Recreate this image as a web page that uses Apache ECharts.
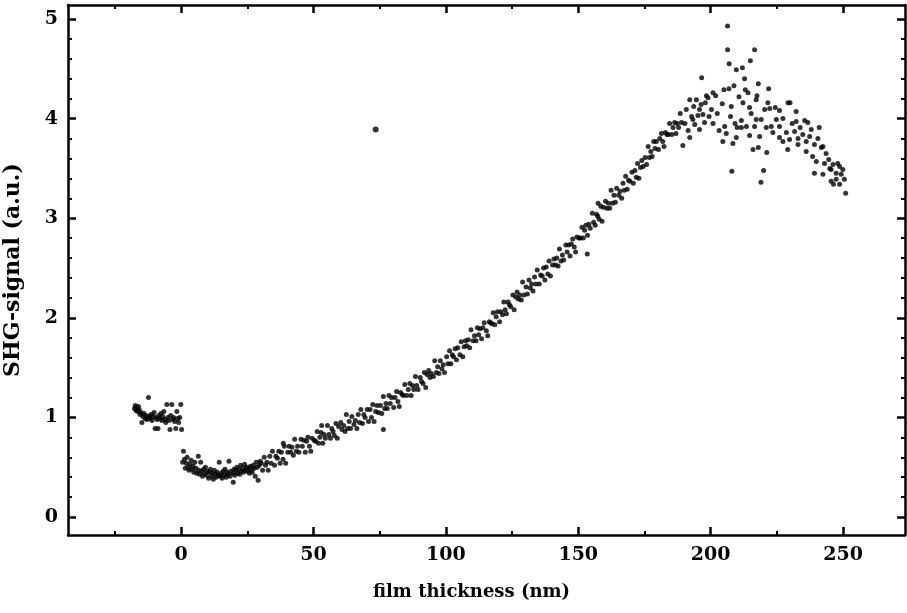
<!DOCTYPE html>
<html>
<head>
<meta charset="utf-8">
<script src="https://cdn.jsdelivr.net/npm/echarts@6/dist/echarts.min.js"></script>
<style>
html,body{margin:0;padding:0;background:#fff;}
#chart{width:907px;height:613px;}
</style>
</head>
<body>
<div id="chart"></div>
<script>
// ---- axis ranges and ticks ----
const X_MIN = -42.7, X_MAX = 273.4;
const Y_MIN = -0.18, Y_MAX = 5.14;
const xMajorTicks = [0, 50, 100, 150, 200, 250];
const xMinorTicks = [-25, 25, 75, 125, 175, 225];
const yMajorTicks = [0, 1, 2, 3, 4, 5];
const yMinorTicks = [0.2,0.4,0.6,0.8,1.2,1.4,1.6,1.8,2.2,2.4,2.6,2.8,3.2,3.4,3.6,3.8,4.2,4.4,4.6,4.8];
const xTitle = 'film thickness (nm)';
const yTitle = 'SHG-signal (a.u.)';

// ---- data: [film thickness (nm), SHG signal (a.u.)] ----
const bareSubstrate = [[-17.6,1.09],[-17.3,1.12],[-17.0,1.07],[-16.7,1.10],[-16.4,1.06],[-16.1,1.11],[-15.8,1.08],[-15.5,1.03],[-15.1,1.05],[-14.8,0.95],[-14.4,1.01],[-14.0,1.04],[-13.6,0.99],[-13.2,1.02],[-12.9,0.98],[-12.3,1.20],[-12.1,1.01],[-11.7,0.99],[-11.4,1.03],[-11.0,0.97],[-10.6,1.01],[-10.2,1.05],[-9.8,0.89],[-9.5,1.00],[-9.1,0.98],[-8.7,0.89],[-8.4,1.02],[-8.0,0.99],[-7.6,1.04],[-7.3,0.97],[-6.9,1.01],[-6.5,1.06],[-6.1,0.98],[-5.8,0.95],[-5.4,1.13],[-5.0,1.00],[-4.6,0.97],[-4.2,0.88],[-3.9,1.02],[-3.5,1.13],[-3.1,0.98],[-2.8,1.00],[-2.4,0.96],[-2.0,0.89],[-1.6,1.06],[-1.3,0.99],[-0.9,0.95],[-0.5,1.00],[-0.1,1.13],[0.2,0.88]];

const thinFilm = [[0.6,0.55],[0.9,0.66],[1.3,0.58],[1.6,0.49],[2.0,0.54],[2.3,0.60],[2.7,0.50],[3.0,0.47],[3.4,0.53],[3.8,0.57],[4.1,0.48],[4.5,0.51],[4.8,0.45],[5.2,0.55],[5.6,0.49],[5.9,0.44],[6.5,0.61],[6.7,0.47],[7.0,0.43],[7.4,0.55],[7.8,0.46],[8.1,0.41],[8.5,0.48],[8.9,0.44],[9.2,0.50],[9.6,0.42],[10.0,0.46],[10.4,0.39],[10.7,0.45],[11.1,0.48],[11.5,0.41],[11.8,0.44],[12.2,0.38],[12.6,0.47],[13.0,0.43],[13.3,0.40],[13.7,0.45],[14.1,0.42],[14.4,0.55],[14.8,0.41],[15.2,0.44],[15.5,0.39],[15.9,0.46],[16.3,0.42],[16.6,0.48],[17.0,0.40],[17.4,0.45],[17.7,0.43],[18.1,0.56],[18.5,0.41],[18.8,0.46],[19.7,0.35],[19.6,0.44],[20.0,0.48],[20.3,0.42],[20.7,0.47],[21.1,0.50],[21.4,0.44],[21.8,0.48],[22.2,0.43],[22.5,0.52],[22.9,0.46],[23.3,0.49],[23.6,0.45],[24.0,0.53],[24.4,0.47],[24.7,0.50],[25.1,0.46],[25.5,0.49],[25.8,0.44],[26.2,0.51],[26.6,0.48],[26.9,0.45],[27.3,0.52],[27.7,0.49],[28.0,0.41],[28.4,0.55],[28.8,0.50],[29.1,0.37],[29.5,0.52],[29.9,0.56]];

const risingFilm = [
[30.3,0.54],[30.8,0.47],[31.4,0.60],[31.9,0.52],[32.4,0.55],[32.9,0.47],[33.5,0.61],[34.0,0.54],[34.5,0.66],
[35.3,0.52],[35.8,0.61],[36.4,0.59],[36.9,0.66],[37.4,0.54],[37.9,0.65],[38.5,0.58],[38.6,0.74],[39.0,0.71],[39.5,0.54],
[40.3,0.65],[40.8,0.71],[41.4,0.65],[41.9,0.70],[42.4,0.62],[42.9,0.78],[43.5,0.66],[44.0,0.71],[44.5,0.65],
[45.3,0.78],[45.8,0.71],[46.4,0.77],[46.9,0.65],[47.4,0.76],[47.9,0.80],[48.5,0.71],[49.0,0.66],[49.5,0.79],
[50.3,0.77],[50.8,0.76],[51.4,0.86],[51.9,0.74],[52.4,0.80],[52.9,0.85],[53.1,0.92],[53.5,0.74],[54.0,0.83],[54.5,0.79],
[55.3,0.92],[55.8,0.83],[56.4,0.79],[56.9,0.89],[57.4,0.86],[57.9,0.82],[58.5,0.94],[59.0,0.79],[59.5,0.91],
[60.3,0.95],[60.8,0.88],[61.4,0.92],[61.9,0.86],[62.4,1.03],[62.9,0.89],[63.5,0.96],[64.0,0.89],[64.5,1.01],
[65.3,0.93],[65.8,0.97],[66.4,0.89],[66.9,1.03],[67.4,0.95],[67.9,1.08],[68.5,0.94],[69.0,1.03],[69.5,1.00],
[70.3,1.08],[70.8,0.96],[71.4,1.08],[71.9,1.00],[72.4,1.13],[72.9,0.96],[73.5,1.06],[74.0,1.12],[74.5,1.05],
[75.3,1.12],[75.8,1.04],[76.4,0.88],[76.4,1.21],[76.9,1.09],[77.4,1.14],[77.9,1.09],[78.5,1.22],[79.0,1.14],[79.5,1.20],
[80.3,1.10],[80.8,1.20],[81.4,1.26],[81.9,1.16],[82.4,1.11],[82.9,1.25],[83.5,1.23],[84.0,1.22],[84.5,1.33],
[85.3,1.22],[85.8,1.28],[86.4,1.34],[86.9,1.22],[87.4,1.32],[87.9,1.28],[88.5,1.41],[89.0,1.32],[89.5,1.28],
[90.3,1.40],[90.8,1.36],[91.4,1.34],[91.9,1.45],[92.4,1.30],[92.9,1.43],[93.5,1.47],[94.0,1.40],[94.5,1.44],
[95.3,1.41],[95.8,1.57],[96.4,1.45],[96.9,1.51],[97.4,1.44],[97.9,1.57],[98.5,1.49],[99.0,1.53],[99.5,1.45],
[100.3,1.61],[100.8,1.54],[101.4,1.67],[101.9,1.54],[102.4,1.63],[102.9,1.61],[103.5,1.69],[104.0,1.58],[104.5,1.70],
[105.3,1.63],[105.8,1.76],[106.4,1.61],[106.9,1.71],[107.4,1.77],[107.9,1.72],[108.5,1.78],[109.0,1.70],[109.5,1.88],
[110.3,1.77],[110.8,1.82],[111.4,1.77],[111.9,1.90],[112.4,1.83],[112.9,1.89],[113.5,1.79],[114.0,1.90],[114.5,1.95],
[115.3,1.87],[115.8,1.82],[116.4,1.96],[116.9,1.95],[117.4,1.94],[117.9,2.05],[118.5,1.93],[119.0,2.01],[119.5,2.06],
[120.3,1.96],[120.8,2.06],[121.4,2.03],[121.9,2.16],[122.4,2.08],[122.9,2.04],[123.5,2.16],[124.0,2.13],[124.5,2.11],
[125.3,2.23],[125.8,2.08],[126.4,2.21],[126.9,2.26],[127.4,2.19],[127.9,2.23],[128.5,2.18],[129.0,2.36],[129.5,2.23],
[130.3,2.31],[130.8,2.24],[131.4,2.38],[131.9,2.30],[132.4,2.34],[132.9,2.27],[133.5,2.41],[134.0,2.34],[134.5,2.48],
[135.3,2.34],[135.8,2.43],[136.4,2.42],[136.9,2.50],[137.4,2.38],[137.9,2.51],[138.5,2.44],[139.0,2.57],[139.5,2.42],
[140.3,2.53],[140.8,2.59],[141.4,2.53],[141.9,2.60],[142.4,2.52],[142.9,2.69],[143.5,2.57],[144.0,2.63],[144.5,2.58],
[145.3,2.73],[145.8,2.66],[146.4,2.73],[146.9,2.62],[147.4,2.74],[147.9,2.79],[148.5,2.71],[149.0,2.66],[149.5,2.81],
[150.3,2.80],[150.8,2.80],[151.4,2.91],[151.9,2.80],[152.4,2.88],[152.9,2.93],[153.4,2.64],[153.5,2.83],[154.0,2.94],[154.5,2.90],
[155.3,3.05],[155.8,2.96],[156.4,2.93],[156.9,3.04],[157.4,3.02],[157.5,3.15],[157.9,2.99],[158.5,3.12],[159.0,2.97],[159.5,3.11],
[160.3,3.17],[160.8,3.10],[161.4,3.15],[161.9,3.10],[162.4,3.28],[162.9,3.15],[163.5,3.23],[164.0,3.16],[164.5,3.30],
[165.3,3.23],[165.8,3.27],[166.4,3.20],[166.9,3.35],[167.4,3.28],[167.9,3.42],[168.5,3.29],[169.0,3.38],[169.5,3.37],
[170.3,3.46],[170.8,3.35],[171.4,3.48],[171.9,3.41],[172.4,3.55],[172.9,3.40],[173.5,3.51],[174.0,3.58],[174.5,3.52],
[175.3,3.61],[175.8,3.54],[176.4,3.72],[176.9,3.61],[177.4,3.67],[177.9,3.62],[178.5,3.77],[179.0,3.70],[179.5,3.77],
[180.3,3.69],[180.8,3.80],[181.4,3.85],[181.9,3.77],[182.4,3.72],[182.9,3.86],[183.5,3.84],[184.0,3.84],[184.5,3.95],
[185.3,3.84],[185.8,3.91],[186.4,3.96],[186.9,3.85],[187.4,3.95],[187.9,3.91],[188.5,4.05],[189.0,3.96],[189.5,3.73],
[190.3,3.95],[190.8,4.09],[191.5,3.88],[192.1,4.19],[192.1,3.81],[192.8,4.02],[193.3,3.99],[193.6,4.12],[194.0,3.94],
[194.6,4.19],[195.2,4.03],[195.8,4.09],[195.8,3.89],[196.4,4.14],[196.6,4.41],[197.1,4.04],[197.7,3.96],[198.0,4.16],
[198.4,4.23],[199.0,4.21],[199.4,4.02],[200.3,4.09],[200.9,4.26],[200.9,3.95],[201.9,4.23],[202.5,4.05]];

const peakRegion = [[203.2,3.88],[204.4,4.15],[204.6,3.77],[205.0,4.29],[205.3,3.92],[205.9,3.85],[206.4,4.93],[206.4,4.69],[206.9,4.30],[207.0,4.55],[207.5,4.02],[207.8,4.12],[208.0,3.47],[208.4,3.75],[208.8,4.33],[209.2,3.95],[209.7,4.49],[209.7,3.81],[210.0,3.91],[210.7,4.22],[211.6,3.98],[211.6,3.91],[212.0,4.51],[212.2,4.16],[212.8,4.40],[213.1,4.29],[213.5,3.92],[214.1,4.26],[214.7,4.11],[214.7,3.83],[215.0,4.58],[215.3,4.05],[216.0,3.69],[216.6,4.69],[216.6,3.92],[217.2,4.19],[217.2,3.99],[217.5,4.23],[218.0,4.35],[218.0,3.71],[218.5,3.82],[219.0,3.36],[219.1,3.99],[220.0,3.48],[220.4,4.09],[221.0,3.91],[221.2,3.66],[221.6,4.16],[221.9,4.30],[222.3,4.10],[222.9,3.92],[223.5,3.86],[224.4,4.11],[224.8,3.99]];

const decliningFilm = [[226.0,4.08],[226.0,3.92],[226.0,3.81],[227.3,4.00],[227.3,3.77],[228.6,3.86],[229.1,3.69],[229.2,4.16],[229.8,3.79],[230.0,4.16],[230.8,3.95],[231.7,3.87],[232.3,4.07],[232.3,3.97],[233.0,3.80],[233.0,3.74],[233.8,3.91],[234.8,3.84],[235.5,3.98],[236.1,3.77],[236.1,3.67],[236.7,3.96],[237.4,3.82],[238.0,3.89],[238.5,3.62],[239.2,3.74],[239.2,3.45],[239.9,3.57],[240.5,3.80],[241.0,3.91],[241.8,3.71],[242.4,3.72],[242.4,3.44],[243.0,3.55],[243.6,3.65],[244.6,3.59],[245.0,3.50],[245.5,3.49],[245.5,3.37],[246.2,3.54],[246.4,3.34],[247.4,3.45],[247.4,3.39],[248.0,3.55],[248.7,3.52],[248.7,3.34],[249.3,3.44],[249.9,3.49],[250.5,3.39],[251.0,3.25]];

const strayMark = [[73.5,3.89]];

// ---- chart ----
const chart = echarts.init(document.getElementById('chart'), null, {renderer: 'canvas'});
const ink = '#000';
const labelFont = {fontFamily: 'DejaVu Serif', fontWeight: 'bold', fontSize: 19, color: ink};
const gridBox = {left: 68, right: 2, top: 5, bottom: 78, containLabel: false, outerBoundsMode: 'none'};
const blankLabel = (vals) => ({show: true, customValues: vals, formatter: function () { return ''; }});

function xAx(gridIndex, position, opts) {
  return Object.assign({
    type: 'value', gridIndex, position, min: X_MIN, max: X_MAX,
    splitLine: {show: false},
    axisLine: {show: false, onZero: false},
    axisLabel: {show: false},
    axisTick: {show: false}
  }, opts);
}
function yAx(gridIndex, position, opts) {
  return Object.assign({
    type: 'value', gridIndex, position, min: Y_MIN, max: Y_MAX,
    splitLine: {show: false},
    axisLine: {show: false, onZero: false},
    axisLabel: {show: false},
    axisTick: {show: false}
  }, opts);
}
const frameLine = {show: true, onZero: false, lineStyle: {color: ink, width: 2.5}};
const hiddenLine = {show: false, onZero: false};
const majorTick = (vals) => ({show: true, inside: true, length: 8, customValues: vals, lineStyle: {color: ink, width: 2.5}});
const minorTick = (vals) => ({show: true, inside: true, length: 4, customValues: vals, lineStyle: {color: ink, width: 2}});

const option = {
  animation: false,
  backgroundColor: '#fff',
  grid: [Object.assign({}, gridBox), Object.assign({}, gridBox)],
  xAxis: [
    xAx(0, 'bottom', {
      axisLine: frameLine, axisTick: majorTick(xMajorTicks),
      axisLabel: Object.assign({show: true, margin: 11, customValues: xMajorTicks}, labelFont),
      name: xTitle, nameLocation: 'middle', nameGap: 48,
      nameTextStyle: {fontFamily: 'DejaVu Serif', fontWeight: 'bold', fontSize: 18, color: ink, padding: [0, 30, 0, 0]}
    }),
    xAx(0, 'top', {axisLine: frameLine, axisTick: majorTick(xMajorTicks), axisLabel: blankLabel(xMajorTicks)}),
    xAx(1, 'bottom', {axisLine: hiddenLine, axisTick: minorTick(xMinorTicks), axisLabel: blankLabel(xMinorTicks)}),
    xAx(1, 'top', {axisLine: hiddenLine, axisTick: minorTick(xMinorTicks), axisLabel: blankLabel(xMinorTicks)})
  ],
  yAxis: [
    yAx(0, 'left', {
      axisLine: frameLine, axisTick: majorTick(yMajorTicks),
      axisLabel: Object.assign({show: true, margin: 10, customValues: yMajorTicks}, labelFont),
      name: yTitle, nameLocation: 'middle', nameGap: 44,
      nameTextStyle: {fontFamily: 'DejaVu Serif', fontWeight: 'bold', fontSize: 22, color: ink}
    }),
    yAx(0, 'right', {axisLine: frameLine, axisTick: majorTick(yMajorTicks), axisLabel: blankLabel(yMajorTicks)}),
    yAx(1, 'left', {axisLine: hiddenLine, axisTick: minorTick(yMinorTicks), axisLabel: blankLabel(yMinorTicks)}),
    yAx(1, 'right', {axisLine: hiddenLine, axisTick: minorTick(yMinorTicks), axisLabel: blankLabel(yMinorTicks)})
  ],
  series: [
    {name: 'substrate', type: 'scatter', xAxisIndex: 0, yAxisIndex: 0, data: bareSubstrate, symbolSize: 5, itemStyle: {color: ink}, silent: true},
    {name: 'thin film', type: 'scatter', xAxisIndex: 0, yAxisIndex: 0, data: thinFilm, symbolSize: 5, itemStyle: {color: ink}, silent: true},
    {name: 'rising', type: 'scatter', xAxisIndex: 0, yAxisIndex: 0, data: risingFilm, symbolSize: 5, itemStyle: {color: ink}, silent: true},
    {name: 'peak', type: 'scatter', xAxisIndex: 0, yAxisIndex: 0, data: peakRegion, symbolSize: 5, itemStyle: {color: ink}, silent: true},
    {name: 'declining', type: 'scatter', xAxisIndex: 0, yAxisIndex: 0, data: decliningFilm, symbolSize: 5, itemStyle: {color: ink}, silent: true},
    {name: 'stray', type: 'scatter', xAxisIndex: 0, yAxisIndex: 0, data: strayMark, symbolSize: 6, itemStyle: {color: ink}, silent: true}
  ]
};
chart.setOption(option);
</script>
</body>
</html>
